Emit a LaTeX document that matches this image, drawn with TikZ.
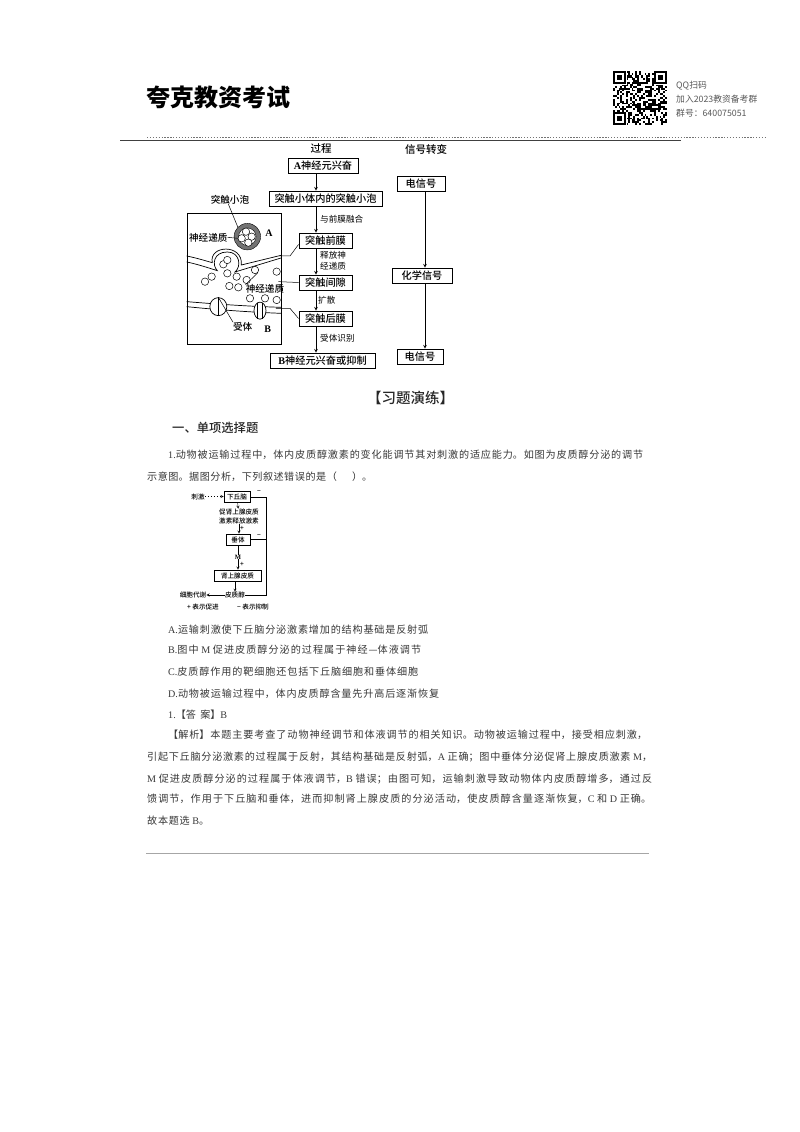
\documentclass[tikz,border=0pt]{standalone}
\usepackage{xcolor}
\usepackage{fontspec}
\setmainfont{Noto Sans CJK SC}
\newfontfamily\latfont{Liberation Serif}
\newfontfamily\medfont{Noto Sans CJK SC Medium}
\usetikzlibrary{shapes.geometric, arrows, positioning}
\XeTeXlinebreaklocale "zh"
\XeTeXlinebreakskip=0pt plus 3pt
\tolerance=10000
\hbadness=10000
\hfuzz=5pt
\definecolor{inkgrey}{gray}{0.22}
\newcommand{\lat}[1]{{\latfont #1}}
\newcommand{\txtline}[5]{\node (#1) [bodyline, text width=#4pt] at (#2,#3) {\parfillskip=0pt\relax #5\par};}

\begin{document}
\begin{tikzpicture}[x=1pt, y=-1pt]
\tikzstyle{bodyline} = [anchor=west, inner sep=0pt, align=justify, text=inkgrey, font=\fontsize{10.1pt}{11pt}\selectfont]
\tikzstyle{stepbox} = [rectangle, draw, line width=0.9pt, inner sep=0pt, font=\medfont\fontsize{10.2pt}{11pt}\selectfont]
\tikzstyle{note} = [inner sep=0pt, font=\fontsize{8.6pt}{10.6pt}\selectfont, align=center]
\tikzstyle{inlabel} = [inner sep=0pt, font=\medfont\fontsize{9.6pt}{11pt}\selectfont]
\tikzstyle{head} = [inner sep=0pt, font=\medfont\fontsize{10.5pt}{12pt}\selectfont]
\tikzstyle{flow} = [-stealth, line width=0.6pt]
\tikzstyle{lead} = [line width=0.5pt]
\tikzstyle{tinybox} = [rectangle, draw, line width=0.7pt, inner sep=0pt, font=\medfont\fontsize{6.6pt}{8pt}\selectfont]
\tikzstyle{tiny} = [inner sep=0pt, font=\medfont\fontsize{6.6pt}{9pt}\selectfont, align=center]
\tikzstyle{ves} = [circle, draw, fill=white, line width=0.5pt, minimum size=7.4pt, inner sep=0pt]
\tikzstyle{qqtext} = [anchor=west, inner sep=0pt, text=black!65, font=\fontsize{8.8pt}{10pt}\selectfont]

\useasboundingbox (0,0) rectangle (800,1132);
\fill[white] (0,0) rectangle (800,1132);

% page header
\node (brand) [anchor=center, inner sep=0pt, font=\bfseries\fontsize{24pt}{26pt}\selectfont] at (218,97) {夸克教资考试};
\pgfmathsetseed{11}
\foreach \i in {0,...,28} {
  \foreach \j in {0,...,28} {
    \pgfmathparse{rnd>0.5 ? 1 : 0}
    \ifnum\pgfmathresult=1
      \fill[black] (613+\i*1.86,71+\j*1.86) rectangle +(1.86,1.86);
    \fi
  }
}
\foreach \cx/\cy in {613/71, 654/71, 613/112} {
  \fill[white] (\cx-0.5,\cy-0.5) rectangle +(14,14);
  \fill[black] (\cx,\cy) rectangle +(13,13);
  \fill[white] (\cx+1.9,\cy+1.9) rectangle +(9.2,9.2);
  \fill[black] (\cx+3.7,\cy+3.7) rectangle +(5.6,5.6);
}
\node (qq1) [qqtext] at (676,86) {QQ扫码};
\node (qq2) [qqtext] at (676,99) {加入2023教资备考群};
\node (qq3) [qqtext] at (676,113) {群号：640075051};
\draw[line width=1.2pt, black!75] (120,140.5) -- (681,140.5);
\draw[line width=0.8pt, black!55, dash pattern=on 1.3pt off 1.6pt] (147,137) -- (766,137);

% flow column
\coordinate (flowx) at (316,0);
\coordinate (sigx) at (425,0);
\node (guocheng) [head] at (321,149) {过程};
\node (xinhao) [head] at (426,149) {信号转变};
\node (neuronA) [stepbox, minimum width=70pt, minimum height=15pt] at (323,165.5) {\lat{\bfseries A}神经元兴奋};
\node (vesbox) [stepbox, minimum width=113pt, minimum height=15pt] at (325.5,198.5) {突触小体内的突触小泡};
\node (premem) [stepbox, minimum width=53pt, minimum height=15pt] at (325.5,240.5) {突触前膜};
\node (gap) [stepbox, minimum width=53pt, minimum height=15pt] at (325.5,282.5) {突触间隙};
\node (postmem) [stepbox, minimum width=53pt, minimum height=15pt] at (325.5,318.5) {突触后膜};
\node (neuronB) [stepbox, minimum width=105pt, minimum height=15pt] at (322.5,360.5) {\lat{\bfseries B}神经元兴奋或抑制};
\node (sigA) [stepbox, minimum width=48pt, minimum height=15pt] at (421,183.5) {电信号};
\node (sigB) [stepbox, minimum width=60pt, minimum height=15pt] at (422,275.5) {化学信号};
\node (sigC) [stepbox, minimum width=46pt, minimum height=15pt] at (420,356.5) {电信号};
\draw[flow] (neuronA.south -| flowx) -- (vesbox.north -| flowx);
\draw[flow] (vesbox.south -| flowx) -- (premem.north -| flowx);
\draw[flow] (premem.south -| flowx) -- (gap.north -| flowx);
\draw[flow] (gap.south -| flowx) -- (postmem.north -| flowx);
\draw[flow] (postmem.south -| flowx) -- (neuronB.north -| flowx);
\draw[flow] (sigA.south -| sigx) -- (sigB.north -| sigx);
\draw[flow] (sigB.south -| sigx) -- (sigC.north -| sigx);
\node (fuse) [note, anchor=west] at (320,219) {与前膜融合};
\node (release) [note, anchor=west] at (320,261) {释放神\\经递质};
\node (diffuse) [note, anchor=west] at (318,300) {扩散};
\node (recog) [note, anchor=west] at (320,338) {受体识别};

% synapse sketch
\node (inset) [rectangle, draw, line width=0.8pt, minimum width=94pt, minimum height=131pt, inner sep=0pt] at (234,278.5) {};
\begin{scope}[shift={(170pt,-130pt)}, x=0.3333pt, y=-0.3333pt]
  \draw[line width=0.7pt] (50,378) .. controls (80,384) and (105,392) .. (127,398) .. controls (115,345) and (220,340) .. (214,405) -- (333,376);
  \draw[line width=0.7pt] (50,396) .. controls (80,402) and (110,412) .. (142,422) .. controls (125,405) and (130,366) .. (172,366) .. controls (210,366) and (215,410) .. (195,426) -- (333,384);
  \draw[line width=0.7pt] (50,515) .. controls (90,518) and (200,528) .. (333,532);
  \draw[line width=0.7pt] (50,530) .. controls (90,534) and (200,545) .. (333,550);
  \node (vesOuter) [circle, draw, fill=black!55, minimum size=26.5pt, inner sep=0pt] at (232,320) {};
  \node (vesInner) [circle, draw, fill=white, minimum size=17.5pt, inner sep=0pt] at (232,320) {};
  \foreach \n/\vx/\vy in {a/228/305, b/215/325, c/245/320, d/235/338, e/105/455, f/125/440, g/172/430, h/200/440, i/230/450, j/178/468, k/205/472, l/320/425, m/255/420, n/240/505, o/285/505, p/320/510, q/160/403, r/172/390} {
    \node (v\n) [ves] at (\vx,\vy) {};
  }
  \node (recepL) [ellipse, draw, fill=white, line width=0.7pt, minimum width=17pt, minimum height=18pt, inner sep=0pt] at (145,530) {};
  \draw[line width=0.7pt] (recepL.north) -- (recepL.south);
  \node (recepR) [ellipse, draw, fill=white, line width=0.7pt, minimum width=12pt, minimum height=17pt, inner sep=0pt] at (270,542) {};
  \draw[line width=0.7pt] (262,518) -- (262,566);
  \draw[line width=0.7pt] (278,518) -- (278,566);
  \coordinate (preEnd) at (328,378);
  \coordinate (gapEnd) at (325,455);
  \coordinate (postEnd) at (318,535);
  \coordinate (preBend) at (360,378);
  \coordinate (postBend) at (360,535);
  \node (lblVes) [inlabel] at (180,208) {突触小泡};
  \node (lblNt) [inlabel] at (115,322) {神经递质};
  \node (lblNtB) [inlabel] at (285,478) {神经递质};
  \node (lblRec) [inlabel] at (218,590) {受体};
  \node (lblA) [note, font=\latfont\bfseries\fontsize{10pt}{11pt}\selectfont] at (297,310) {A};
  \node (lblB) [note, font=\latfont\bfseries\fontsize{10pt}{11pt}\selectfont] at (293,598) {B};
  \draw[lead] (lblVes.south) ++(-5,0) -- (vesOuter.north west);
  \draw[lead] (lblNt.east) -- (vb.west);
  \draw[lead] (lblNtB.north west) -- (vm.south east);
  \draw[lead] (lblRec.north west) -- (recepL.north);
\end{scope}
\draw[lead] (premem.south west) ++(0,-4) -- (preBend) -- (preEnd);
\draw[lead] (gap.west) -- (gapEnd);
\draw[lead] (postmem.west) -- (postBend) -- (postEnd);

% exercise text
\node (title) [inner sep=0pt, text=black!85, font=\medfont\fontsize{14.5pt}{16pt}\selectfont] at (410.5,398) {【习题演练】};
\node (section) [anchor=west, inner sep=0pt, text=black!85, font=\medfont\fontsize{12.3pt}{14pt}\selectfont] at (172,428) {一、单项选择题};
\txtline{q1}{168}{455}{475}{\lat{1.}动物被运输过程中，体内皮质醇激素的变化能调节其对刺激的适应能力。如图为皮质醇分泌的调节}
\txtline{q2}{147}{477}{225}{示意图。据图分析，下列叙述错误的是（\hspace{1.5em}）。}

% regulation sketch
\node (hypo) [tinybox, minimum width=26pt, minimum height=11pt] at (237,496.5) {下丘脑};
\node (stim) [tiny] at (198,496.5) {刺激};
\node (crh) [tiny] at (239,516.5) {促肾上腺皮质\\激素释放激素};
\node (pit) [tinybox, minimum width=24pt, minimum height=11pt] at (238,539.5) {垂体};
\node (mlabel) [tiny, font=\latfont\bfseries\fontsize{6.6pt}{8pt}\selectfont] at (238,557) {M};
\node (adrenal) [tinybox, minimum width=47pt, minimum height=11pt] at (237.5,575.5) {肾上腺皮质};
\node (cort) [tiny] at (235,595) {皮质醇};
\node (meta) [tiny] at (193,595) {细胞代谢};
\node (plusA) [tiny] at (242,528) {+};
\node (plusB) [tiny] at (242,564) {+};
\node (minusA) [tiny] at (259,492.5) {−};
\node (minusB) [tiny] at (259,536.5) {−};
\node (legendA) [tiny] at (203,607) {+ 表示促进};
\node (legendB) [tiny] at (253,607) {− 表示抑制};
\coordinate (fbTurn) at (266,595);
\coordinate (fbTop) at (266,497);
\coordinate (fbMid) at (266,539.5);
\draw[-stealth, line width=0.4pt, dash pattern=on 1.5pt off 1.5pt] (stim) -- (hypo);
\draw[flow, line width=0.4pt] (hypo) -- (crh);
\draw[flow, line width=0.4pt] (crh) -- (crh |- pit.north);
\draw[line width=0.4pt] (pit) -- (mlabel);
\draw[flow, line width=0.4pt] (mlabel) -- (mlabel |- adrenal.north);
\draw[flow, line width=0.4pt] (adrenal.south -| cort) -- (cort);
\draw[flow, line width=0.4pt] (cort) -- (meta);
\draw[line width=0.5pt] (cort) -- (fbTurn) -- (fbTop) -- (hypo.east |- fbTop);
\draw[line width=0.5pt] (fbMid) -- (pit.east);

\txtline{optA}{168}{630}{260}{\lat{A.}运输刺激使下丘脑分泌激素增加的结构基础是反射弧}
\txtline{optB}{168}{650}{253}{\lat{B.}图中 \lat{M} 促进皮质醇分泌的过程属于神经—体液调节}
\txtline{optC}{168}{672}{250}{\lat{C.}皮质醇作用的靶细胞还包括下丘脑细胞和垂体细胞}
\txtline{optD}{168}{694}{271}{\lat{D.}动物被运输过程中，体内皮质醇含量先升高后逐渐恢复}
\txtline{ans}{168}{715}{59}{\lat{1.}【答案】\lat{B}}
\txtline{ex1}{168}{735}{479}{【解析】本题主要考查了动物神经调节和体液调节的相关知识。动物被运输过程中，接受相应刺激，}
\txtline{ex2}{147}{757}{505}{引起下丘脑分泌激素的过程属于反射，其结构基础是反射弧，\lat{A} 正确；图中垂体分泌促肾上腺皮质激素 \lat{M}，}
\txtline{ex3}{147}{779}{505}{\lat{M} 促进皮质醇分泌的过程属于体液调节，\lat{B} 错误；由图可知，运输刺激导致动物体内皮质醇增多，通过反}
\txtline{ex4}{147}{799}{504}{馈调节，作用于下丘脑和垂体，进而抑制肾上腺皮质的分泌活动，使皮质醇含量逐渐恢复，\lat{C} 和 \lat{D} 正确。}
\txtline{ex5}{147}{821}{62}{故本题选 \lat{B}。}
\draw[line width=0.6pt, black!35] (146,853.5) -- (649,853.5);

\end{tikzpicture}
\end{document}
